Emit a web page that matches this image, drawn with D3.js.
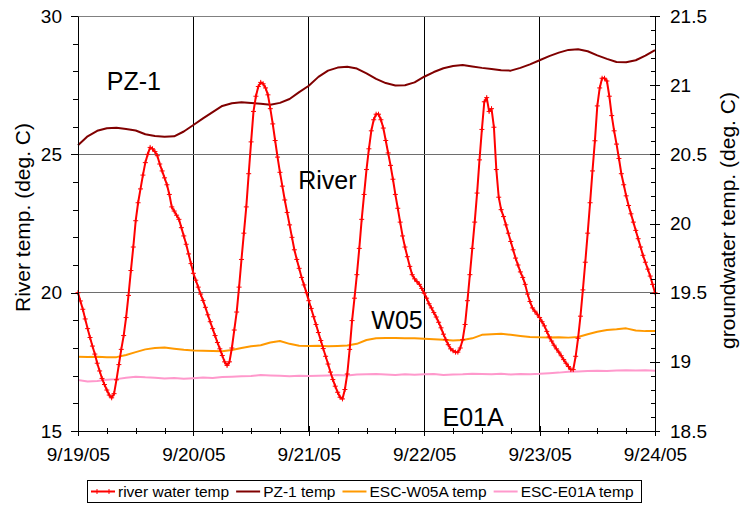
<!DOCTYPE html>
<html>
<head>
<meta charset="utf-8">
<script src="https://cdn.jsdelivr.net/npm/d3@7"></script>
<style>
  body { margin: 0; background: #fff; }
  svg { display: block; font-family: "Liberation Sans", Arial, sans-serif; }
</style>
</head>
<body>
<svg id="chart" width="740" height="506"></svg>
<script>
// Logging start and sampling intervals (hours)
const startDate = new Date(2005, 8, 19, 0, 0, 0);
const riverStepHours = 0.5;
const groundStepHours = 2;

// River water temperature, deg C, every 30 minutes (9/19 00:00 - 9/24 00:00)
const riverTemp = [
  20.0, 19.7, 19.4, 19.05, 18.7, 18.38, 18.07, 17.78, 17.45, 17.17, 16.9, 16.68, 16.48, 16.3, 16.2, 16.35,
  16.85, 17.4, 17.95, 18.45, 19.1, 19.9, 20.8, 21.65, 22.6, 23.25, 23.75, 24.25, 24.7, 25.0, 25.25, 25.2,
  25.1, 24.95, 24.65, 24.4, 24.15, 23.9, 23.55, 23.1, 22.95, 22.8, 22.65, 22.35, 22.05, 21.75, 21.4, 21.05,
  20.7, 20.45, 20.2, 19.95, 19.72, 19.47, 19.2, 18.95, 18.7, 18.45, 18.2, 17.97, 17.73, 17.5, 17.37, 17.5,
  18.0, 18.65, 19.3, 20.2, 21.2, 22.15, 23.1, 24.3, 25.45, 26.55, 27.1, 27.45, 27.6, 27.55, 27.4, 27.15,
  26.65, 26.1, 25.5, 24.9, 24.35, 23.85, 23.35, 22.9, 22.45, 22.0, 21.55, 21.2, 20.88, 20.55, 20.28, 20.0,
  19.71, 19.43, 19.13, 18.85, 18.56, 18.27, 17.98, 17.7, 17.42, 17.13, 16.86, 16.62, 16.4, 16.22, 16.16, 16.5,
  17.06, 17.95, 18.99, 19.8, 20.65, 21.6, 22.65, 23.55, 24.45, 25.2, 25.85, 26.25, 26.45, 26.45, 26.25, 25.95,
  25.5, 25.05, 24.6, 24.1, 23.55, 23.05, 22.55, 22.05, 21.65, 21.3, 20.95, 20.65, 20.5, 20.4, 20.3, 20.15,
  19.98, 19.8, 19.6, 19.45, 19.28, 19.12, 18.93, 18.73, 18.5, 18.3, 18.12, 17.97, 17.9, 17.85, 17.85, 18.0,
  18.3, 18.85, 19.71, 20.65, 21.6, 22.55, 23.6, 24.8, 25.9, 26.9, 27.05, 26.55, 26.65, 25.98, 24.45, 23.45,
  23.0, 22.75, 22.45, 22.15, 21.85, 21.55, 21.25, 21.0, 20.75, 20.55, 20.3, 19.95, 19.68, 19.45, 19.33, 19.22,
  19.1, 18.95, 18.8, 18.6, 18.4, 18.25, 18.1, 17.97, 17.85, 17.72, 17.58, 17.45, 17.33, 17.22, 17.22, 17.7,
  18.35, 19.15, 20.1, 21.1, 22.15, 23.25, 24.4, 25.49, 26.75, 27.4, 27.75, 27.75, 27.65, 27.1, 26.4, 25.85,
  25.37, 24.85, 24.3, 23.9, 23.5, 23.15, 22.85, 22.55, 22.25, 21.95, 21.65, 21.35, 21.1, 20.85, 20.6, 20.3, 20.0
];

// Groundwater temperatures, deg C, every 2 hours
const pz1Temp = [
  20.565, 20.63, 20.67, 20.688, 20.692, 20.683, 20.672, 20.645, 20.632, 20.627, 20.63, 20.665,
  20.712, 20.76, 20.805, 20.85, 20.869, 20.876, 20.871, 20.866, 20.859, 20.872, 20.9, 20.95,
  20.996, 21.06, 21.105, 21.127, 21.133, 21.12, 21.085, 21.045, 21.015, 20.998, 21.0, 21.02,
  21.061, 21.095, 21.122, 21.138, 21.145, 21.135, 21.125, 21.117, 21.108, 21.105, 21.125, 21.15,
  21.18, 21.21, 21.235, 21.255, 21.26, 21.245, 21.215, 21.19, 21.167, 21.165, 21.18, 21.213, 21.254
];
const w05Temp = [
  19.037, 19.035, 19.036, 19.033, 19.034, 19.05, 19.07, 19.09, 19.1, 19.104, 19.095, 19.087,
  19.082, 19.08, 19.079, 19.076, 19.085, 19.1, 19.112, 19.12, 19.14, 19.15, 19.13, 19.117,
  19.115, 19.116, 19.113, 19.115, 19.118, 19.13, 19.158, 19.17, 19.173, 19.172, 19.17, 19.171,
  19.167, 19.163, 19.16, 19.155, 19.158, 19.17, 19.195, 19.2, 19.203, 19.195, 19.187, 19.18,
  19.177, 19.176, 19.177, 19.175, 19.18, 19.2, 19.218, 19.23, 19.235, 19.242, 19.227, 19.222, 19.222
];
const e01aTemp = [
  18.868, 18.858, 18.862, 18.87, 18.875, 18.885, 18.893, 18.888, 18.885, 18.88, 18.884, 18.878,
  18.882, 18.886, 18.884, 18.89, 18.892, 18.895, 18.898, 18.905, 18.902, 18.9, 18.895, 18.9,
  18.897, 18.9, 18.902, 18.905, 18.902, 18.908, 18.91, 18.912, 18.908, 18.905, 18.91, 18.906,
  18.91, 18.912, 18.905, 18.908, 18.91, 18.914, 18.912, 18.91, 18.914, 18.908, 18.912, 18.91,
  18.913, 18.918, 18.922, 18.928, 18.93, 18.933, 18.935, 18.934, 18.938, 18.94, 18.938, 18.94, 18.936
];

// Axis tick labels
const dateLabels = ["9/19/05", "9/20/05", "9/21/05", "9/22/05", "9/23/05", "9/24/05"];
const riverTicks = [15, 20, 25, 30];
const groundTicks = [18.5, 19, 19.5, 20, 20.5, 21, 21.5];

// Series names and colours
const seriesNames = ["river water temp", "PZ-1 temp", "ESC-W05A temp", "ESC-E01A temp"];
const seriesColors = ["#ff0000", "#800000", "#ff9900", "#ff99cc"];

(function drawChart() {
  const svg = d3.select("#chart");
  const pL = 78, pR = 655, pT = 16, pB = 431;

  const endDate = d3.timeDay.offset(startDate, 5);
  const x = d3.scaleTime().domain([startDate, endDate]).range([pL, pR]);
  const yL = d3.scaleLinear().domain([15, 30]).range([pB, pT]);
  const yR = d3.scaleLinear().domain([18.5, 21.5]).range([pB, pT]);

  const days = d3.timeDay.range(startDate, d3.timeDay.offset(endDate, 1));
  const sixHours = d3.timeHour.every(6).range(startDate, d3.timeHour.offset(endDate, 1));

  // Grid
  const grid = svg.append("g");
  grid.selectAll("line.v").data(days.slice(1, -1)).join("line")
    .attr("x1", d => x(d)).attr("x2", d => x(d)).attr("y1", pT).attr("y2", pB)
    .attr("stroke", "#000").attr("stroke-width", 1).attr("shape-rendering", "crispEdges");
  grid.selectAll("line.h").data([20, 25]).join("line")
    .attr("x1", pL).attr("x2", pR).attr("y1", d => yL(d)).attr("y2", d => yL(d))
    .attr("stroke", "#6e6e6e").attr("stroke-width", 1).attr("shape-rendering", "crispEdges");
  grid.append("line")
    .attr("x1", pL).attr("x2", pR).attr("y1", yL(30)).attr("y2", yL(30))
    .attr("stroke", "#808080").attr("shape-rendering", "crispEdges");

  // Series data
  const toPoints = (arr, step) => arr.map((v, i) => ({ t: d3.timeMinute.offset(startDate, Math.round(i * step * 60)), v }));
  const riverPts = toPoints(riverTemp, riverStepHours);
  const groundSeries = [
    { pts: toPoints(pz1Temp, groundStepHours), color: seriesColors[1] },
    { pts: toPoints(w05Temp, groundStepHours), color: seriesColors[2] },
    { pts: toPoints(e01aTemp, groundStepHours), color: seriesColors[3] }
  ];

  const lineR = d3.line().x(d => x(d.t)).y(d => yR(d.v));
  const lineL = d3.line().x(d => x(d.t)).y(d => yL(d.v));

  const plot = svg.append("g");
  groundSeries.slice().reverse().forEach(s => {
    plot.append("path").datum(s.pts)
      .attr("d", lineR).attr("fill", "none")
      .attr("stroke", s.color).attr("stroke-width", 2).attr("stroke-linejoin", "round");
  });

  plot.append("path").datum(riverPts)
    .attr("d", lineL).attr("fill", "none")
    .attr("stroke", seriesColors[0]).attr("stroke-width", 2).attr("stroke-linejoin", "round");
  const plusPath = "M-2.5,0H2.5M0,-2.5V2.5";
  plot.selectAll("path.mk").data(riverPts).join("path")
    .attr("class", "mk")
    .attr("transform", d => `translate(${x(d.t)},${yL(d.v)})`)
    .attr("d", plusPath).attr("stroke", seriesColors[0]).attr("stroke-width", 1).attr("fill", "none");

  // Axes
  const tickFont = g => g.selectAll("text").attr("font-size", 19).attr("fill", "#000")
    .attr("font-family", "'Liberation Sans', Arial, sans-serif");

  const axL = svg.append("g").attr("transform", `translate(${pL},0)`);
  axL.call(d3.axisLeft(yL).tickValues(d3.range(15, 31, 1)).tickSize(5).tickFormat(""));
  axL.call(g => g.select(".domain").remove());
  svg.append("g").attr("transform", `translate(${pL},0)`)
    .call(d3.axisLeft(yL).tickValues(riverTicks).tickSize(7).tickSizeOuter(0).tickPadding(9).tickFormat(d3.format("d")))
    .call(tickFont);

  const axR = svg.append("g").attr("transform", `translate(${pR},0)`);
  axR.call(d3.axisRight(yR).tickValues(d3.range(185, 216, 1).map(v => v / 10)).tickSize(0).tickFormat(""));
  axR.selectAll(".tick line").attr("x1", -4).attr("x2", 0);
  axR.call(g => g.select(".domain").remove());
  const axRMaj = svg.append("g").attr("transform", `translate(${pR},0)`)
    .call(d3.axisRight(yR).tickValues(groundTicks).tickSize(5).tickSizeOuter(0).tickPadding(10).tickFormat(d => String(d)))
    .call(tickFont);
  axRMaj.selectAll(".tick line").attr("x1", -5);

  const axB = svg.append("g").attr("transform", `translate(0,${pB})`);
  axB.call(d3.axisBottom(x).tickValues(sixHours).tickSize(3).tickFormat(""));
  axB.selectAll(".tick line").attr("y1", -3);
  axB.call(g => g.select(".domain").remove());
  const axBMaj = svg.append("g").attr("transform", `translate(0,${pB})`)
    .call(d3.axisBottom(x).tickValues(days).tickSize(5).tickSizeOuter(0).tickPadding(12)
      .tickFormat((d, i) => dateLabels[i]))
    .call(tickFont);
  axBMaj.selectAll(".tick line").attr("y1", -5);

  svg.selectAll(".domain").attr("stroke", "#000");
  svg.selectAll(".tick line").attr("stroke", "#000").attr("shape-rendering", "crispEdges");

  // Axis titles
  svg.append("text")
    .attr("transform", `translate(30,${(pT + pB) / 2 - 6}) rotate(-90)`)
    .attr("text-anchor", "middle").attr("font-size", 21).text("River temp. (deg. C)");
  svg.append("text")
    .attr("transform", `translate(735,${(pT + pB) / 2 - 3}) rotate(-90)`)
    .attr("text-anchor", "middle").attr("font-size", 21).text("groundwater temp. (deg. C)");

  // Series annotations placed in data coordinates
  const notes = [
    { text: "PZ-1", t: 6.0, v: 27.33 },
    { text: "River", t: 45.8, v: 23.75 },
    { text: "W05", t: 61.0, v: 18.69 },
    { text: "E01A", t: 75.8, v: 15.19 }
  ];
  svg.selectAll("text.note").data(notes).join("text")
    .attr("class", "note")
    .attr("x", d => x(d3.timeMinute.offset(startDate, d.t * 60)))
    .attr("y", d => yL(d.v))
    .attr("font-size", 25).attr("fill", "#000").text(d => d.text);

  // Legend
  const legend = svg.append("g");
  const box = legend.append("rect")
    .attr("x", 87.5).attr("y", 480.5).attr("height", 22)
    .attr("fill", "#fff").attr("stroke", "#000").attr("stroke-width", 1);
  let cx = 91;
  seriesNames.forEach((name, i) => {
    legend.append("line")
      .attr("x1", cx).attr("x2", cx + 24).attr("y1", 491.5).attr("y2", 491.5)
      .attr("stroke", seriesColors[i]).attr("stroke-width", 2);
    if (i === 0) {
      [cx + 6, cx + 18].forEach(px => legend.append("path")
        .attr("transform", `translate(${px},491.5)`).attr("d", plusPath)
        .attr("stroke", seriesColors[0]).attr("stroke-width", 1));
    }
    const t = legend.append("text").attr("x", cx + 27).attr("y", 497)
      .attr("font-size", 15.5).attr("fill", "#000").text(name);
    cx += 27 + t.node().getComputedTextLength() + 7;
  });
  box.attr("width", cx - 87.5 + 1);
})();
</script>
</body>
</html>
